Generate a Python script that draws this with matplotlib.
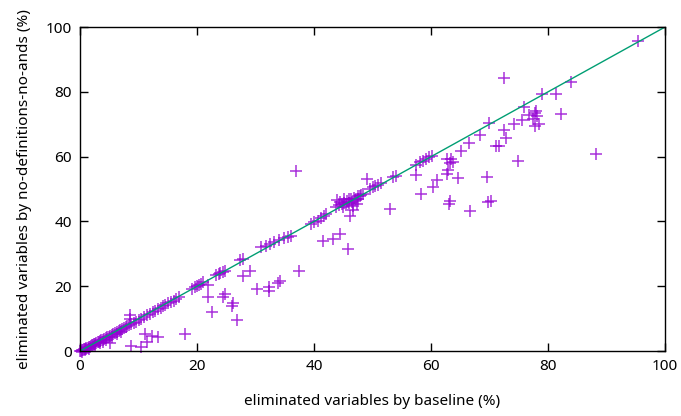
import matplotlib
matplotlib.use("Agg")
import matplotlib.pyplot as plt

# points near the diagonal (baseline %, no-definitions-no-ands %)
diag_x = [0, 0.2, 0.3, 0.5, 0.6, 0.8, 1.0, 1.1, 1.3, 1.5, 1.7, 1.9, 2.0, 2.2, 2.4, 2.6, 2.8, 3.0,
          3.2, 3.4, 3.6, 3.9, 4.1, 4.4, 4.6, 4.9, 5.1, 5.4, 5.7, 6.0, 6.3, 6.6, 6.9, 7.2, 7.5, 7.8,
          8.1, 8.4, 8.8, 9.2, 9.6, 10.0, 0.4, 0.9, 1.6, 2.5, 3.5, 4.5, 5.5, 6.4, 7.0,
          10.5, 11.0, 11.5, 12.0, 12.4, 12.9, 13.3, 13.8, 14.2, 14.6, 15.0, 15.5, 16.0, 16.4, 16.9,
          19.2, 19.6, 20.0, 20.3, 20.6, 21.0, 23.3, 23.7, 24.0, 24.4, 24.8, 27.4, 27.8,
          31.0, 31.8, 32.5, 33.2, 34.0, 34.8, 35.5, 36.0, 39.5, 40.0, 40.6, 41.2, 41.7, 42.1,
          43.8, 44.3, 44.8, 45.2, 45.6, 46.0, 46.4, 46.8, 47.2, 47.5, 47.8, 48.1, 48.4, 44.5, 45.0,
          45.5, 46.0, 46.5, 47.0, 47.5, 44.0, 45.2, 46.6, 47.3, 49.5, 50.0, 50.5, 51.0, 51.5,
          53.5, 54.0, 57.4, 58.1, 58.6, 59.1, 59.6, 60.1, 65.2, 66.5, 68.3, 69.9, 75.9, 79.0,
          83.9, 95.3]
diag_y = [0, 0, 0.2, 0.3, 0.5, 0.6, 0.8, 0.9, 1.0, 1.3, 1.4, 1.6, 1.8, 2.0, 2.1, 2.3, 2.5, 2.7,
          2.9, 3.0, 3.3, 3.5, 3.8, 4.0, 4.3, 4.5, 4.8, 5.0, 5.3, 5.6, 5.9, 6.2, 6.5, 6.8, 7.1, 7.4,
          7.7, 8.0, 8.3, 8.7, 9.1, 9.6, -0.3, 0.2, 0.8, 1.5, 2.6, 3.4, 4.3, 5.3, 6.0,
          10.0, 10.6, 11.1, 11.6, 12.0, 12.5, 12.9, 13.4, 13.8, 14.3, 14.7, 15.2, 15.6, 16.0, 16.6,
          19.3, 19.8, 20.1, 20.5, 20.8, 21.2, 23.4, 23.8, 24.1, 24.4, 24.7, 28.0, 28.3,
          32.0, 32.5, 33.2, 33.8, 34.4, 34.8, 35.2, 35.5, 39.3, 39.8, 40.2, 41.0, 41.8, 42.3,
          44.5, 45.0, 45.5, 45.8, 46.3, 46.8, 47.0, 47.3, 47.0, 47.8, 48.0, 48.3, 48.5, 46.0, 44.5,
          45.0, 45.8, 46.0, 46.5, 46.8, 46.5, 47.0, 44.8, 45.5, 50.0, 50.5, 51.0, 51.4, 51.8,
          53.8, 54.0, 57.5, 58.3, 58.6, 59.2, 59.9, 60.3, 61.9, 64.3, 66.6, 70.5, 75.3, 79.2,
          83.0, 95.8]

# points away from the diagonal
off_x = [36.9, 72.5, 88.2, 81.3, 82.3, 77.8, 78.2, 77.5, 78.5, 77.8, 78.0, 76.8, 74.2, 75.5,
         72.4, 72.8, 71.1, 71.7, 74.9, 62.7, 63.5, 63.3, 62.9, 62.7, 63.8, 64.6, 61.0, 60.4,
         58.3, 69.5, 63.0, 63.3, 66.7, 69.7, 70.3, 57.4, 53.0, 49.1, 46.7, 46.2, 44.4, 43.3,
         41.5, 45.8, 37.4, 29.1, 27.9, 30.2, 32.3, 32.3, 33.9, 34.2, 21.8, 24.4, 24.8, 26.2,
         25.9, 22.6, 26.9, 17.9, 11.1, 12.3, 13.3, 11.5, 8.8, 10.4, 8.5, 8.5, 5.1, 4.0, 21.9]
off_y = [55.6, 84.4, 60.8, 79.2, 73.1, 73.4, 72.5, 71.5, 70.0, 69.5, 74.0, 72.8, 70.0, 71.3,
         68.3, 65.9, 63.3, 63.3, 58.8, 59.3, 59.3, 57.9, 55.8, 54.8, 58.5, 53.4, 52.8, 50.7,
         48.5, 53.6, 45.4, 46.4, 43.3, 46.1, 46.4, 54.3, 43.7, 53.0, 43.5, 41.8, 36.1, 34.5,
         34.0, 31.4, 24.8, 24.8, 23.3, 19.2, 19.8, 18.4, 21.1, 21.7, 16.6, 16.8, 17.5, 14.8,
         13.9, 12.0, 9.6, 5.4, 5.4, 4.6, 4.4, 2.9, 1.6, 1.4, 11.1, 10.0, 2.4, 2.9, 20.4]

line_x = [0, 100]
line_y = [0, 100]

plt.rcParams['font.family'] = ['Noto Sans', 'DejaVu Sans']
fig = plt.figure(figsize=(6.81, 4.16), dpi=100)
ax = fig.add_axes([0.1175, 0.156, 0.859, 0.779])

ax.plot(diag_x + off_x, diag_y + off_y, linestyle='none', marker='+', markersize=8.5,
        markeredgewidth=1.1, color='#9400D3', alpha=0.8, clip_on=False, zorder=2)
ax.plot(line_x, line_y, color='#009E73', linewidth=1.0, zorder=3)

ax.set_xlim(0, 100)
ax.set_ylim(0, 100)
ax.set_xticks([0, 20, 40, 60, 80, 100])
ax.set_yticks([0, 20, 40, 60, 80, 100])
ax.tick_params(direction='in', length=6, width=1, top=True, right=True,
               labelsize=11, pad=6, colors='black')
for s in ax.spines.values():
    s.set_linewidth(1.0)
    s.set_zorder(4)
ax.set_xlabel('eliminated variables by baseline (%)', fontsize=11, labelpad=14)
ax.set_ylabel('eliminated variables by no-definitions-no-ands (%)', fontsize=11, labelpad=10)

fig.savefig('out.png', dpi=100)
